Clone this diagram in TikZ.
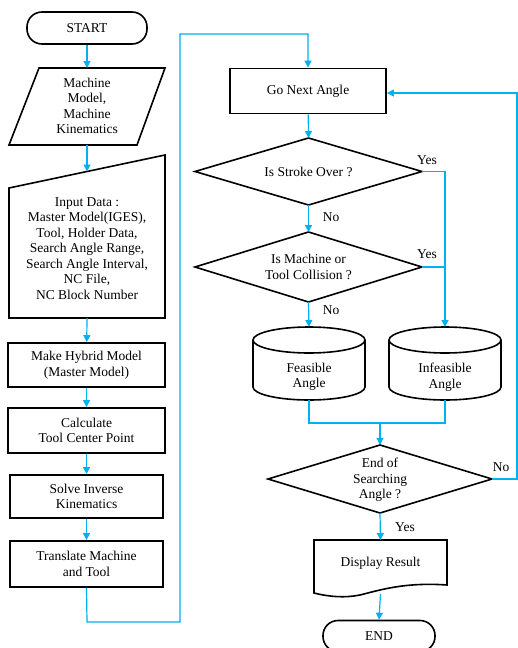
\documentclass[tikz,border=0pt]{standalone}
\usepackage{fontspec}
\setmainfont{Liberation Serif}
\usetikzlibrary{shapes.geometric,arrows.meta,calc}
\definecolor{flow}{HTML}{00B0F0}
\begin{document}
\begin{tikzpicture}[x=1pt,y=-1pt,
  txt/.style={font=\rmfamily\fontsize{13.5}{15.5}\selectfont,align=center,inner sep=0pt},
  box/.style={txt,draw=black,line width=1.8pt,rectangle},
  term/.style={txt,draw=black,line width=1.6pt,rectangle,rounded corners=15pt},
  shp/.style={draw=black,line width=1.6pt,line join=miter},
  flowline/.style={draw=flow,line width=1.2pt},
  arr/.style={flowline,-{Triangle[width=7pt,length=7pt]}},
  lbl/.style={font=\rmfamily\fontsize{13.5}{15}\selectfont,inner sep=0pt}
]
\useasboundingbox (0,0) rectangle (518,648);

% ---- left column ----
\node[term,minimum width=120pt,minimum height=32pt] (start) at (87,28) {START};

\node[txt] (mm) at (87,106) {Machine\\Model,\\Machine\\Kinematics};
\draw[shp] (39,68) -- (165,68) -- (137,145) -- (9,145) -- cycle;
\coordinate (mmtop) at (87,68);
\coordinate (mmbot) at (87,145);

\node[txt] (inp) at (87,248.5) {Input Data :\\Master Model(IGES),\\Tool, Holder Data,\\Search Angle Range,\\Search Angle Interval,\\NC File,\\NC Block Number};
\draw[shp] (9,188) -- (165,155) -- (165,318) -- (9,318) -- cycle;
\coordinate (inptop) at (87,171.5);
\coordinate (inpbot) at (87,318);

\node[box,minimum width=157pt,minimum height=44pt] (hyb) at (86.5,365) {Make Hybrid Model\\(Master Model)};
\node[box,minimum width=157pt,minimum height=45pt] (calc) at (86.5,430.5) {Calculate\\Tool Center Point};
\node[box,minimum width=153pt,minimum height=43pt] (solve) at (86.5,496.5) {Solve Inverse\\Kinematics};
\node[box,minimum width=153pt,minimum height=46pt] (trans) at (86.5,564) {Translate Machine\\and Tool};

% ---- right column ----
\node[box,minimum width=156pt,minimum height=45pt] (go) at (308,91) {Go Next Angle};

\node[txt] (d1) at (308.5,171.5) {Is Stroke Over ?};
\coordinate (d1n) at (308.5,138);
\coordinate (d1s) at (308.5,205);
\coordinate (d1e) at (422,171.5);
\coordinate (d1w) at (195,171.5);
\draw[shp] (d1n) -- (d1e) -- (d1s) -- (d1w) -- cycle;

\node[txt] (d2) at (308.5,267) {Is Machine or\\Tool Collision ?};
\coordinate (d2n) at (308.5,232);
\coordinate (d2s) at (308.5,302);
\coordinate (d2e) at (422,267);
\coordinate (d2w) at (195,267);
\draw[shp] (d2n) -- (d2e) -- (d2s) -- (d2w) -- cycle;

% cylinders
\node[txt] (fe) at (309,377) {Feasible\\Angle};
\draw[shp] (309,340) ellipse [x radius=56pt,y radius=13pt];
\draw[shp] (253,340) -- (253,387) arc[start angle=180,end angle=360,x radius=56pt,y radius=13pt] -- (365,340);
\coordinate (fetop) at (309,327);
\coordinate (febot) at (309,400);

\node[txt] (inf) at (445,377) {Infeasible\\Angle};
\draw[shp] (445,340) ellipse [x radius=56pt,y radius=13pt];
\draw[shp] (389,340) -- (389,387) arc[start angle=180,end angle=360,x radius=56pt,y radius=13pt] -- (501,340);
\coordinate (inftop) at (445,327);
\coordinate (infbot) at (445,400);

\node[txt] (d3) at (380,480) {End of\\Searching\\Angle ?};
\coordinate (d3n) at (380,445);
\coordinate (d3s) at (380,513);
\coordinate (d3e) at (492,479);
\coordinate (d3w) at (268,479);
\draw[shp] (d3n) -- (d3e) -- (d3s) -- (d3w) -- cycle;

% document shape
\node[txt] (disp) at (380.5,563) {Display Result};
\draw[shp] (314,540) -- (447,540) -- (447,585)
  .. controls (405,582) and (380,590) .. (360,595)
  .. controls (345,598) and (330,597) .. (314,593) -- cycle;
\coordinate (disptop) at (380.5,540);
\coordinate (dispbot) at (380.5,594);

\node[term,minimum width=112pt,minimum height=31pt] (end) at (379,636) {END};

% ---- connectors ----
\draw[arr] (start) -- (mmtop);
\draw[arr] (mmbot) -- (inptop);
\draw[arr] (inpbot) -- (hyb);
\draw[arr] (hyb) -- (calc);
\draw[arr] (calc) -- (solve);
\draw[arr] (solve) -- (trans);
\coordinate (l1) at (87,622);
\coordinate (l2) at (180,622);
\coordinate (l3) at (180,34);
\coordinate (l4) at (308,34);
\draw[arr] (trans.south) -- (l1) -- (l2) -- (l3) -- (l4) -- (go.north);

\draw[arr] (go) -- (d1n);
\draw[arr] (d1s) -- (d2n);
\coordinate (y1) at (445,171.5);
\draw[arr] (d1e) -- (y1) -- (inftop);
\coordinate (y2) at (445,267);
\draw[flowline] (d2e) -- (y2);
\draw[arr] (d2s) -- (fetop);
\node[lbl] (yes1) at (427,160) {Yes};
\node[lbl] (no1) at (331,217) {No};
\node[lbl] (yes2) at (427,254) {Yes};
\node[lbl] (no2) at (331,310) {No};

\coordinate (m) at (380,423);
\draw[flowline] (febot) |- (m);
\draw[flowline] (infbot) |- (m);
\draw[arr] (m) -- (d3n);

\coordinate (n1) at (517,479);
\coordinate (n2) at (517,93);
\draw[arr] (d3e) -- (n1) -- (n2) -- (go.east |- n2);
\node[lbl] (no3) at (501,467) {No};

\draw[arr] (d3s) -- (disptop);
\node[lbl] (yes3) at (405,527) {Yes};
\draw[arr] (dispbot) -- (end.north);
\end{tikzpicture}
\end{document}
